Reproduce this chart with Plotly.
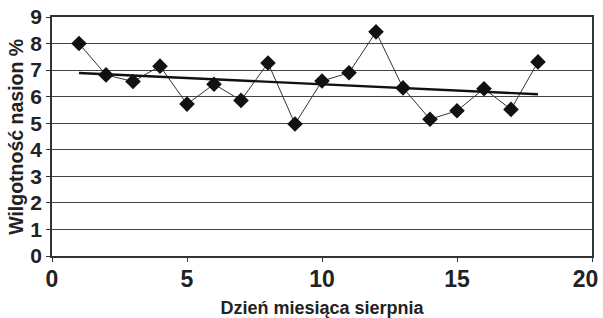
import numpy as np
import plotly.graph_objects as go

days = list(range(1, 19))
moisture = [8.0, 6.82, 6.57, 7.15, 5.72, 6.47, 5.86, 7.27, 4.97,
            6.59, 6.9, 8.44, 6.33, 5.15, 5.47, 6.3, 5.52, 7.31]
x_ticks = [0, 5, 10, 15, 20]
y_ticks = list(range(0, 10))
x_title = "Dzień miesiąca sierpnia"
y_title = "Wilgotność nasion %"

slope, intercept = np.polyfit(days, moisture, 1)
trend_x = [days[0], days[-1]]
trend_y = [slope * v + intercept for v in trend_x]

fig = go.Figure()
fig.add_trace(go.Scatter(
    x=days, y=moisture, mode="lines+markers",
    line=dict(color="#333333", width=1),
    marker=dict(symbol="diamond", size=12, color="#111111"),
    showlegend=False, cliponaxis=False))
fig.add_trace(go.Scatter(
    x=trend_x, y=trend_y, mode="lines",
    line=dict(color="#111111", width=2.4),
    showlegend=False))

# last x label nudged left so it stays inside the page (as in the reference)
x_text = [f"<b>{v}</b>" for v in x_ticks]
x_text[-1] = x_text[-1] + "\u00a0\u00a0"

font_family = "Liberation Sans, Arial, sans-serif"
fig.update_layout(
    width=603, height=318,
    margin=dict(l=52, r=11, t=17, b=62),
    paper_bgcolor="white", plot_bgcolor="white",
    font=dict(family=font_family, color="#222222"),
)
fig.add_annotation(
    text=f"<b>{y_title}</b>", textangle=-90,
    xref="paper", yref="paper", x=-0.068, y=0.5,
    xanchor="center", yanchor="middle", showarrow=False,
    font=dict(size=19.5, family=font_family, color="#222222"))
fig.update_xaxes(
    range=[0, 20], tickvals=x_ticks, ticktext=x_text,
    tickfont=dict(size=23, family=font_family),
    showgrid=False, zeroline=False, automargin=False, ticklabeloverflow="allow",
    showline=True, linecolor="#333333", linewidth=1.5, mirror=True,
    ticks="outside", ticklen=4, tickcolor="#333333", ticklabelstandoff=-2,
    title=dict(text=f"<b>{x_title}</b>", font=dict(size=18), standoff=10),
)
fig.update_yaxes(
    range=[0, 9], tickvals=y_ticks, ticktext=[f"<b>{v}</b>" for v in y_ticks],
    tickfont=dict(size=21, family=font_family),
    showgrid=True, gridcolor="#444444", gridwidth=1.2, zeroline=False, automargin=False,
    ticklabeloverflow="allow",
    showline=True, linecolor="#333333", linewidth=1.5, mirror=True,
    ticks="outside", ticklen=4, tickcolor="#333333",
)
fig.write_html("out.html", config={"displayModeBar": False},
               post_script="document.body.style.margin='0';")
